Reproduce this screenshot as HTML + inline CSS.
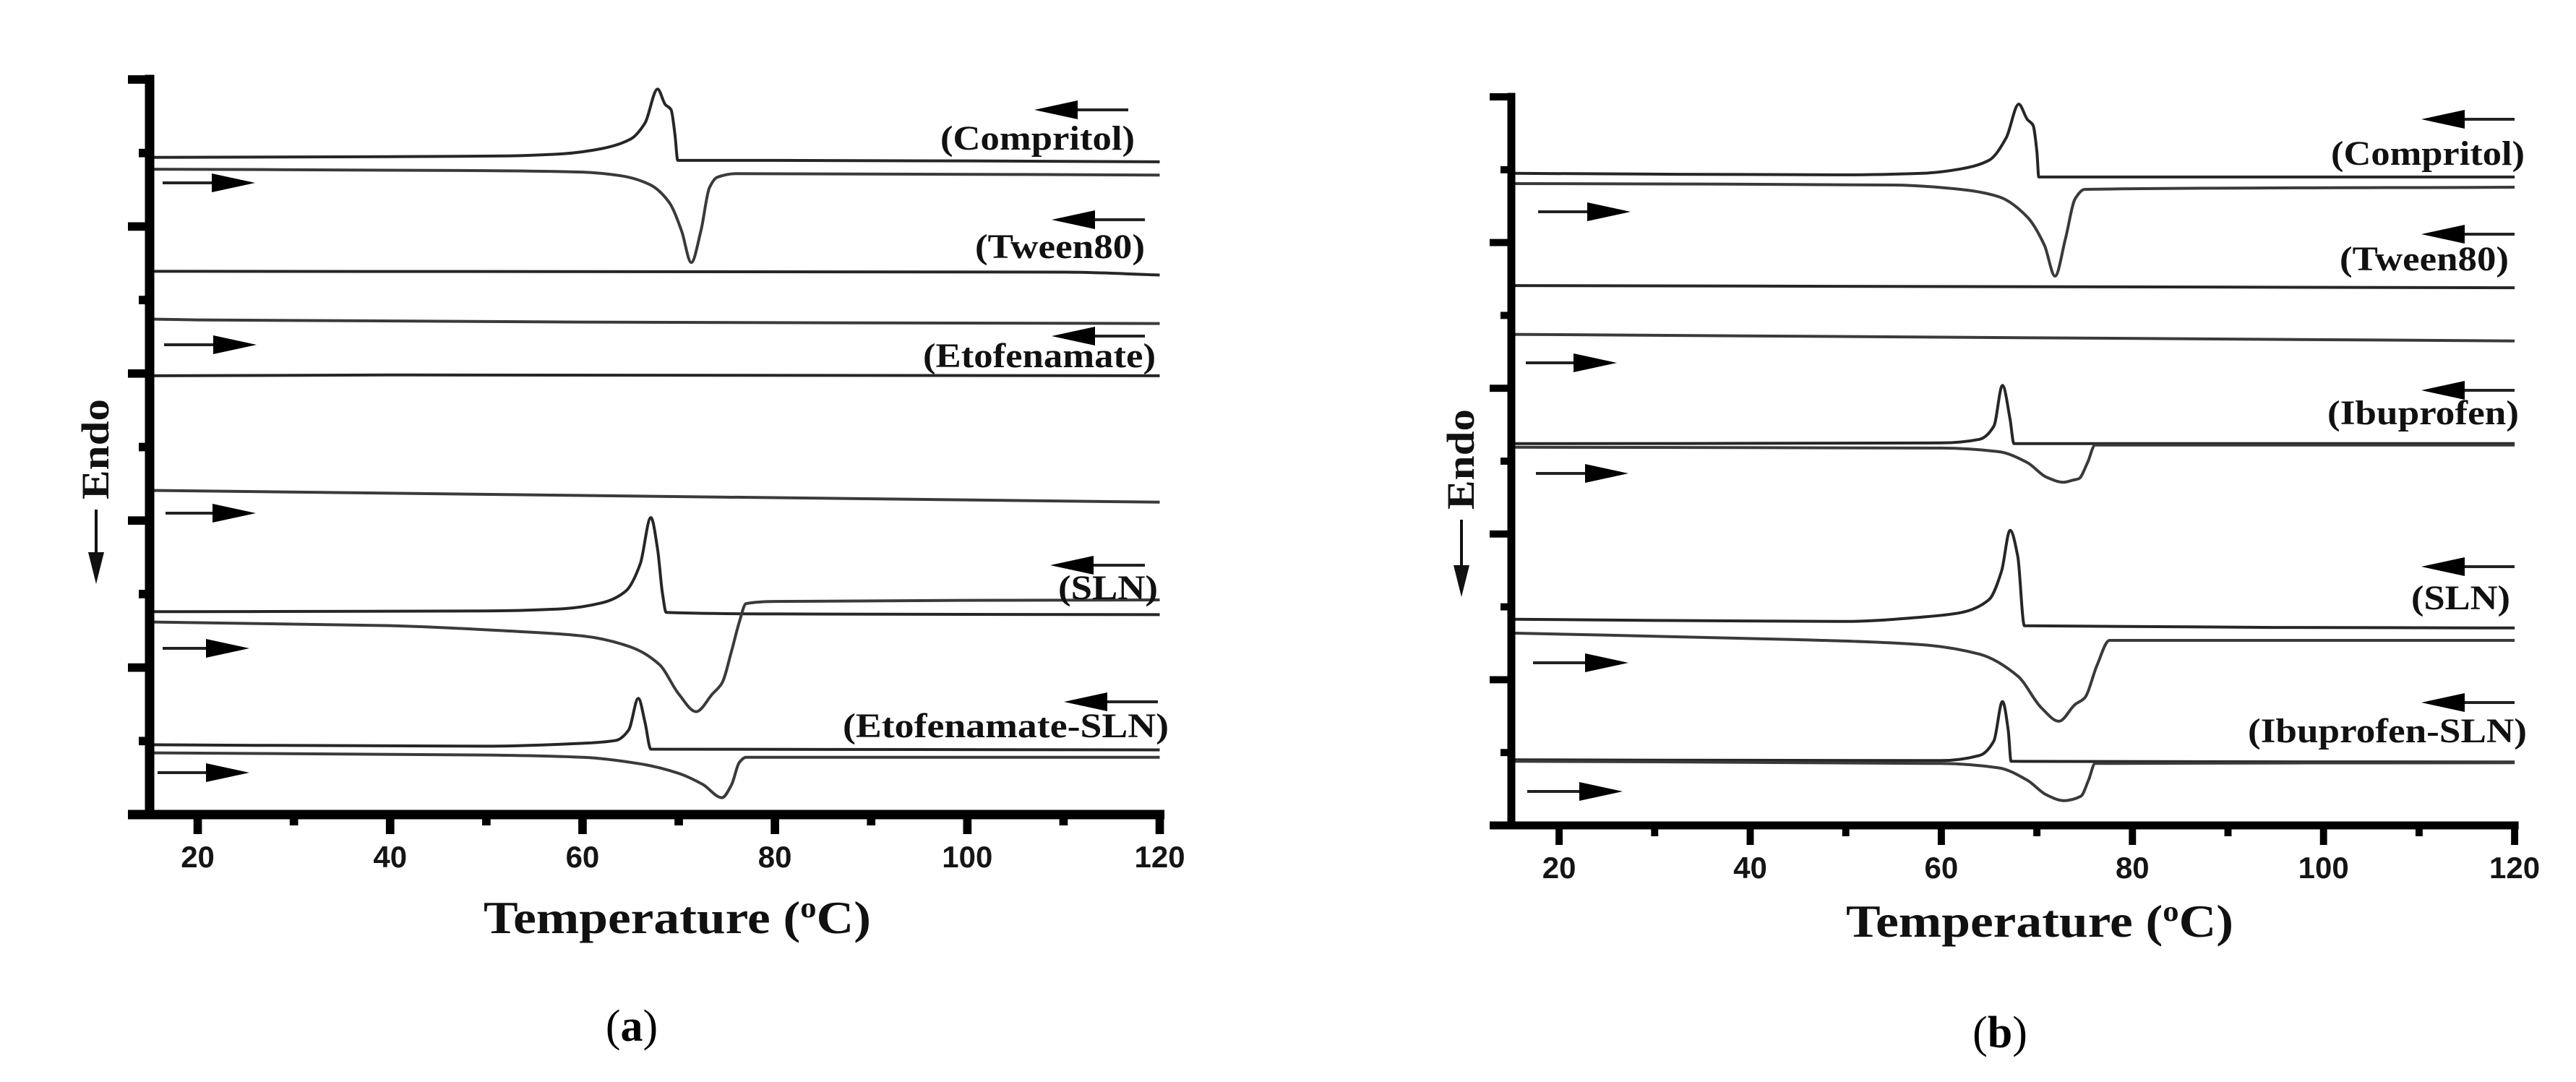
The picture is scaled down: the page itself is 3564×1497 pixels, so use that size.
<!DOCTYPE html>
<html><head><meta charset="utf-8"><style>
html,body{margin:0;padding:0;background:#fff}
svg{display:block}
</style></head><body>
<svg id="fig" width="3564" height="1497" viewBox="0 0 3564 1497" xmlns="http://www.w3.org/2000/svg"></svg>
<script>
// ---------- data (temperature in °C, signal in stacked arbitrary units) ----------
const xTickLabels = [20, 40, 60, 80, 100, 120];
const xMinorTicks = [30, 50, 70, 90, 110];

// Panel (a)
const aCompritolCoolT = [15,40,52,58,62,65,66.5,67.8,68.6,69.2,69.6,69.9,80,120];
const aCompritolCoolV = [8.94,8.95,8.96,8.99,9.06,9.19,9.41,9.87,9.66,9.59,9.26,8.90,8.90,8.88];
const aCompritolHeatT = [15,50,60,64,67,69,70.3,71.3,72.3,73.2,74,76,120];
const aCompritolHeatV = [8.78,8.76,8.74,8.69,8.57,8.33,7.94,7.51,7.94,8.53,8.67,8.72,8.70];
const aTweenCoolT = [15,110,120];
const aTweenCoolV = [7.39,7.38,7.34];
const aTweenHeatT = [15,20,60,120];
const aTweenHeatV = [6.74,6.73,6.70,6.68];
const aEtoCoolT = [15,40,120];
const aEtoCoolV = [5.97,5.98,5.97];
const aEtoHeatT = [15,120];
const aEtoHeatV = [4.41,4.25];
const aSlnCoolT = [15,50,58,62,64.5,66,67.1,67.8,68.3,68.7,80,120];
const aSlnCoolV = [2.76,2.77,2.80,2.88,3.04,3.41,4.04,3.61,3.02,2.75,2.73,2.72];
const aSlnHeatT = [15,40,52,60,65,68,70,71.8,73.5,74.5,75.5,76.3,77,80,120];
const aSlnHeatV = [2.62,2.57,2.50,2.43,2.28,2.04,1.64,1.40,1.64,1.79,2.23,2.62,2.87,2.90,2.92];
const aEtoSlnCoolT = [15,50,60,63.5,64.8,65.8,66.5,67.1,120];
const aEtoSlnCoolV = [0.95,0.93,0.97,1.01,1.15,1.58,1.25,0.89,0.88];
const aEtoSlnHeatT = [15,50,60,66,70,72.5,74.5,75.5,76.3,77,120];
const aEtoSlnHeatV = [0.84,0.81,0.78,0.69,0.56,0.41,0.23,0.41,0.71,0.78,0.78];

// Panel (b)
const bCompritolCoolT = [15,50,58,62,65,66.8,68.1,69,69.6,70,70.2,120];
const bCompritolCoolV = [8.95,8.93,8.95,9.01,9.13,9.44,9.90,9.69,9.61,9.25,8.90,8.90];
const bCompritolHeatT = [15,55,62,66,69,70.8,71.9,73,74,75,120];
const bCompritolHeatV = [8.81,8.79,8.73,8.63,8.35,7.96,7.54,8.06,8.60,8.73,8.76];
const bTweenCoolT = [15,120];
const bTweenCoolV = [7.41,7.38];
const bTweenHeatT = [15,120];
const bTweenHeatV = [6.74,6.65];
const bIbuCoolT = [15,60,64,65.5,66.4,67.2,67.6,120];
const bIbuCoolV = [5.24,5.25,5.30,5.48,6.04,5.57,5.24,5.24];
const bIbuHeatT = [15,60,66,69,71,72.8,73.8,74.4,75.3,76.1,120];
const bIbuHeatV = [5.19,5.18,5.13,4.98,4.78,4.71,4.74,4.76,4.98,5.22,5.22];
const bSlnCoolT = [15,50,58,62,65,66.3,67.2,68,68.7,120];
const bSlnCoolV = [2.83,2.80,2.86,2.92,3.10,3.49,4.05,3.69,2.74,2.71];
const bSlnHeatT = [15,45,58,64,68,70.5,72.3,74,75,76.3,77.6,120];
const bSlnHeatV = [2.64,2.55,2.48,2.35,2.05,1.61,1.43,1.66,1.75,2.20,2.54,2.54];
const bIbuSlnCoolT = [15,60,64,65.5,66.4,67,67.3,120];
const bIbuSlnCoolV = [0.90,0.89,0.96,1.16,1.70,1.31,0.88,0.87];
const bIbuSlnHeatT = [15,60,66,69,71,72.8,74.6,75.4,76.1,120];
const bIbuSlnHeatV = [0.88,0.85,0.79,0.62,0.42,0.34,0.40,0.62,0.85,0.86];

// ---------- rendering ----------
const NS = 'http://www.w3.org/2000/svg';
const svg = document.getElementById('fig');
function mk(tag, attrs, parent) {
  const e = document.createElementNS(NS, tag);
  for (const k in attrs) e.setAttribute(k, attrs[k]);
  (parent || svg).appendChild(e);
  return e;
}
// monotone cubic (Fritsch-Carlson) interpolation in x
function smoothPath(pts) {
  const n = pts.length;
  const f = v => v.toFixed(1);
  if (n < 3) return 'M' + pts.map(p => f(p[0]) + ',' + f(p[1])).join('L');
  const dx = [], s = [];
  for (let i = 0; i < n - 1; i++) {
    dx.push(pts[i + 1][0] - pts[i][0]);
    s.push((pts[i + 1][1] - pts[i][1]) / dx[i]);
  }
  const m = [s[0]];
  for (let i = 1; i < n - 1; i++) {
    if (s[i - 1] * s[i] <= 0) m.push(0);
    else {
      const w1 = 2 * dx[i] + dx[i - 1], w2 = dx[i] + 2 * dx[i - 1];
      m.push((w1 + w2) / (w1 / s[i - 1] + w2 / s[i]));
    }
  }
  m.push(s[n - 2]);
  let d = 'M' + f(pts[0][0]) + ',' + f(pts[0][1]);
  for (let i = 0; i < n - 1; i++) {
    const h = dx[i] / 3;
    d += 'C' + f(pts[i][0] + h) + ',' + f(pts[i][1] + m[i] * h) + ' ' +
         f(pts[i + 1][0] - h) + ',' + f(pts[i + 1][1] - m[i + 1] * h) + ' ' +
         f(pts[i + 1][0]) + ',' + f(pts[i + 1][1]);
  }
  return d;
}

function drawPanel(P) {
  const g = mk('g', {});
  
  
  const xs = T => P.x0 + (T - 15) * P.pxC;
  const ys = v => P.bottom - v * P.unit;

  P.curves.forEach(c => {
    const pts = c.t.map((T, i) => [xs(T), ys(c.v[i])]);
    const p = mk('path', { d: smoothPath(pts), fill: 'none', stroke: c.cool ? '#262626' : '#3a3a3a', 'stroke-width': P.lw, 'stroke-linejoin': 'round' }, g);
    
    
  });

  const yAxis = mk('line', { x1: P.x0, y1: ys(10) - P.aw / 2, x2: P.x0, y2: P.bottom, stroke: '#000', 'stroke-width': P.aw }, g);
  
  
  for (let k = 0; k <= 10; k++) {
    const len = (k % 2 === 0) ? 30 : 15;
    const tk = mk('line', { x1: P.x0 - len, y1: ys(k), x2: P.x0, y2: ys(k), stroke: '#000', 'stroke-width': P.aw * 0.9 }, g);
    
    
  }
  const xAxis = mk('line', { x1: P.x0 - 30, y1: P.bottom, x2: xs(120) + P.aw / 2, y2: P.bottom, stroke: '#000', 'stroke-width': P.aw }, g);
  
  
  xTickLabels.forEach(T => {
    const tk = mk('line', { x1: xs(T), y1: P.bottom, x2: xs(T), y2: P.bottom + 27, stroke: '#000', 'stroke-width': P.aw * 0.9 }, g);
    
    
    const tl = mk('text', { x: xs(T), y: P.bottom + 73, 'text-anchor': 'middle', 'font-family': 'Liberation Sans, sans-serif', 'font-weight': 'bold', 'font-size': 42, fill: '#151515' }, g);
    tl.textContent = T;
    
    
  });
  xMinorTicks.forEach(T => {
    const tk = mk('line', { x1: xs(T), y1: P.bottom, x2: xs(T), y2: P.bottom + 15, stroke: '#000', 'stroke-width': P.aw * 0.9 }, g);
    
    
  });

  P.labels.forEach(L => {
    const t = mk('text', { x: L.x1, y: L.y, textLength: L.x2 - L.x1, lengthAdjust: 'spacingAndGlyphs', 'font-family': 'Liberation Serif, serif', 'font-weight': 'bold', 'font-size': 48, fill: '#111' }, g);
    t.textContent = L.text;
    
    
  });
  P.arrows.forEach(A => {
    const dir = A.x2 > A.x1 ? 1 : -1;
    const tip = A.x2, base = tip - dir * 60;
    const ln = mk('line', { x1: A.x1, y1: A.y, x2: base, y2: A.y, stroke: '#222', 'stroke-width': 4 }, g);
    
    
    const hd = mk('polygon', { points: `${tip},${A.y} ${base},${A.y - 13} ${base},${A.y + 13}`, fill: '#000' }, g);
    
    
  });

  const eg = mk('g', { transform: `translate(${P.endoX},${P.endoY1}) rotate(-90)` }, g);
  const et = mk('text', { x: 0, y: 17, textLength: P.endoY1 - P.endoY0, lengthAdjust: 'spacingAndGlyphs', 'font-family': 'Liberation Serif, serif', 'font-weight': 'bold', 'font-size': 54, fill: '#111' }, eg);
  et.textContent = 'Endo';
  
  
  const ea = mk('line', { x1: P.endoX, y1: P.endoY1 + 14, x2: P.endoX, y2: P.endoA - 40, stroke: '#111', 'stroke-width': 4 }, g);
  
  
  const eh = mk('polygon', { points: `${P.endoX},${P.endoA} ${P.endoX - 11},${P.endoA - 44} ${P.endoX + 11},${P.endoA - 44}`, fill: '#111' }, g);
  
  

  const xt = mk('text', { x: P.titleX - 268, y: P.titleY, textLength: 536, lengthAdjust: 'spacingAndGlyphs', 'font-family': 'Liberation Serif, serif', 'font-weight': 'bold', 'font-size': 64, fill: '#111' }, g);
  
  
  xt.appendChild(document.createTextNode('Temperature ('));
  const sup = mk('tspan', { dy: -22, 'font-size': 40 }, xt);
  sup.textContent = 'o';
  const rest = mk('tspan', { dy: 22 }, xt);
  rest.textContent = 'C)';

  const cap = mk('text', { x: P.capX, y: P.capY, 'text-anchor': 'middle', 'font-family': 'Liberation Serif, serif', 'font-size': 62, fill: '#000' }, g);
  
  
  cap.appendChild(document.createTextNode('('));
  const cb = mk('tspan', { 'font-weight': 'bold' }, cap);
  cb.textContent = P.letter;
  cap.appendChild(document.createTextNode(')'));
}

drawPanel({
  id: 'panel-a', letter: 'a', x0: 207, pxC: 13.31, bottom: 1127, unit: 101.7, lw: 4, aw: 13,
  curves: [
    { name: 'compritol-cooling', t: aCompritolCoolT, v: aCompritolCoolV, cool: true },
    { name: 'compritol-heating', t: aCompritolHeatT, v: aCompritolHeatV },
    { name: 'tween80-cooling', t: aTweenCoolT, v: aTweenCoolV, cool: true },
    { name: 'tween80-heating', t: aTweenHeatT, v: aTweenHeatV },
    { name: 'etofenamate-cooling', t: aEtoCoolT, v: aEtoCoolV, cool: true },
    { name: 'etofenamate-heating', t: aEtoHeatT, v: aEtoHeatV },
    { name: 'sln-cooling', t: aSlnCoolT, v: aSlnCoolV, cool: true },
    { name: 'sln-heating', t: aSlnHeatT, v: aSlnHeatV },
    { name: 'etofenamate-sln-cooling', t: aEtoSlnCoolT, v: aEtoSlnCoolV, cool: true },
    { name: 'etofenamate-sln-heating', t: aEtoSlnHeatT, v: aEtoSlnHeatV }
  ],
  labels: [
    { text: '(Compritol)', x1: 1301, x2: 1570, y: 207 },
    { text: '(Tween80)', x1: 1349, x2: 1584, y: 357 },
    { text: '(Etofenamate)', x1: 1277, x2: 1599, y: 508 },
    { text: '(SLN)', x1: 1464, x2: 1602, y: 829 },
    { text: '(Etofenamate-SLN)', x1: 1166, x2: 1617, y: 1020 }
  ],
  arrows: [
    { x1: 1561, x2: 1431, y: 152 }, { x1: 1584, x2: 1455, y: 304 }, { x1: 1584, x2: 1455, y: 465 },
    { x1: 1584, x2: 1453, y: 782 }, { x1: 1602, x2: 1472, y: 971 },
    { x1: 225, x2: 353, y: 253 }, { x1: 227, x2: 355, y: 477 }, { x1: 229, x2: 354, y: 710 },
    { x1: 225, x2: 345, y: 897 }, { x1: 218, x2: 345, y: 1069 }
  ],
  endoX: 133, endoY0: 552, endoY1: 691, endoA: 808,
  titleX: 937, titleY: 1291, capX: 874, capY: 1440
});

drawPanel({
  id: 'panel-b', letter: 'b', x0: 2091, pxC: 13.22, bottom: 1142, unit: 100.8, lw: 4, aw: 11,
  curves: [
    { name: 'compritol-cooling', t: bCompritolCoolT, v: bCompritolCoolV, cool: true },
    { name: 'compritol-heating', t: bCompritolHeatT, v: bCompritolHeatV },
    { name: 'tween80-cooling', t: bTweenCoolT, v: bTweenCoolV, cool: true },
    { name: 'tween80-heating', t: bTweenHeatT, v: bTweenHeatV },
    { name: 'ibuprofen-cooling', t: bIbuCoolT, v: bIbuCoolV, cool: true },
    { name: 'ibuprofen-heating', t: bIbuHeatT, v: bIbuHeatV },
    { name: 'sln-cooling', t: bSlnCoolT, v: bSlnCoolV, cool: true },
    { name: 'sln-heating', t: bSlnHeatT, v: bSlnHeatV },
    { name: 'ibuprofen-sln-cooling', t: bIbuSlnCoolT, v: bIbuSlnCoolV, cool: true },
    { name: 'ibuprofen-sln-heating', t: bIbuSlnHeatT, v: bIbuSlnHeatV }
  ],
  labels: [
    { text: '(Compritol)', x1: 3225, x2: 3493, y: 228 },
    { text: '(Tween80)', x1: 3237, x2: 3471, y: 374 },
    { text: '(Ibuprofen)', x1: 3220, x2: 3485, y: 587 },
    { text: '(SLN)', x1: 3336, x2: 3473, y: 843 },
    { text: '(Ibuprofen-SLN)', x1: 3110, x2: 3496, y: 1027 }
  ],
  arrows: [
    { x1: 3479, x2: 3350, y: 165 }, { x1: 3479, x2: 3350, y: 324 }, { x1: 3479, x2: 3350, y: 540 },
    { x1: 3479, x2: 3350, y: 784 }, { x1: 3479, x2: 3350, y: 972 },
    { x1: 2128, x2: 2256, y: 293 }, { x1: 2111, x2: 2237, y: 502 }, { x1: 2125, x2: 2253, y: 655 },
    { x1: 2121, x2: 2253, y: 917 }, { x1: 2113, x2: 2245, y: 1095 }
  ],
  endoX: 2022, endoY0: 566, endoY1: 705, endoA: 826,
  titleX: 2822, titleY: 1296, capX: 2767, capY: 1449
});
</script>
</body></html>
